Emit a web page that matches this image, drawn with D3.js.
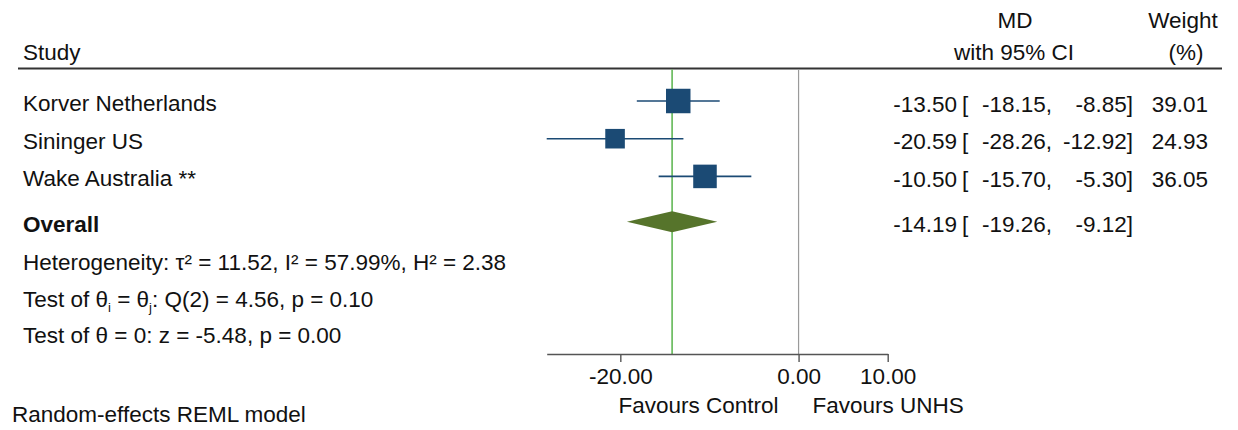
<!DOCTYPE html>
<html>
<head>
<meta charset="utf-8">
<script src="https://cdn.jsdelivr.net/npm/d3@7"></script>
<style>
  html, body { margin: 0; padding: 0; background: #fff; }
  svg text { font-family: "Liberation Sans", Arial, Helvetica, sans-serif; font-size: 22.5px; fill: #111; }
</style>
</head>
<body>
<svg id="chart" width="1238" height="430"></svg>
<script>
// ---- data ----
const studies = ["Korver Netherlands", "Sininger US", "Wake Australia **"];
const estimates = [-13.50, -20.59, -10.50];
const lowerCI = [-18.15, -28.26, -15.70];
const upperCI = [-8.85, -12.92, -5.30];
const weights = [39.01, 24.93, 36.05];
const overallLabel = "Overall";
const overallEst = -14.19;
const overallLo = -19.26;
const overallHi = -9.12;
const xDomain = [-28.26, 10];
const tickValues = [-20, 0, 10];
const favourLabels = ["Favours Control", "Favours UNHS"];

// ---- layout ----
const svg = d3.select("#chart");
const x = d3.scaleLinear().domain(xDomain).range([546.7, 887.7]);
const rowY = d3.scaleLinear().domain([0, 1]).range([101, 138.7]);
const overallY = 221.7;
const headerLineY = 68.5;
const axisY = 354;
const locale = d3.formatLocale({ decimal: ".", thousands: ",", grouping: [3], currency: ["", ""], minus: "-" });
const fmt = locale.format(".2f");
const navy = "#1b4a74";

// header
svg.append("text").attr("x", 23).attr("y", 60).text("Study");
svg.append("text").attr("x", 1015).attr("y", 28).attr("text-anchor", "middle").text("MD");
svg.append("text").attr("x", 1014).attr("y", 60).attr("text-anchor", "middle").text("with 95% CI");
svg.append("text").attr("x", 1183).attr("y", 28).attr("text-anchor", "middle").text("Weight");
svg.append("text").attr("x", 1186).attr("y", 60).attr("text-anchor", "middle").text("(%)");
svg.append("line").attr("x1", 18).attr("x2", 1222).attr("y1", headerLineY).attr("y2", headerLineY)
  .attr("stroke", "#333").attr("stroke-width", 2);

// reference lines
svg.append("line").attr("x1", x(0)).attr("x2", x(0)).attr("y1", headerLineY + 1).attr("y2", axisY)
  .attr("stroke", "#9a9a9a").attr("stroke-width", 1.2);
svg.append("line").attr("x1", x(overallEst)).attr("x2", x(overallEst)).attr("y1", headerLineY + 1).attr("y2", axisY)
  .attr("stroke", "#62b856").attr("stroke-width", 1.6);

// study rows
const rows = studies.map((s, i) => ({ s, est: estimates[i], lo: lowerCI[i], hi: upperCI[i], w: weights[i], y: rowY(i) }));
const g = svg.append("g");
g.selectAll("line.ci").data(rows).join("line").attr("class", "ci")
  .attr("x1", d => x(d.lo)).attr("x2", d => x(d.hi)).attr("y1", d => d.y).attr("y2", d => d.y)
  .attr("stroke", navy).attr("stroke-width", 1.6);
const side = d => 3.92 * Math.sqrt(d.w);
g.selectAll("rect.sq").data(rows).join("rect").attr("class", "sq")
  .attr("x", d => x(d.est) - side(d) / 2).attr("y", d => d.y - side(d) / 2)
  .attr("width", side).attr("height", side).attr("fill", navy);

// text columns
g.selectAll("text.name").data(rows).join("text").attr("class", "name")
  .attr("x", 23).attr("y", d => d.y + 10).text(d => d.s);
g.selectAll("text.est").data(rows).join("text").attr("class", "est")
  .attr("x", 957).attr("y", d => d.y + 10.5).attr("text-anchor", "end").text(d => fmt(d.est));
g.selectAll("text.br").data(rows).join("text").attr("class", "br")
  .attr("x", 962).attr("y", d => d.y + 10.5).text("[");
g.selectAll("text.lo").data(rows).join("text").attr("class", "lo")
  .attr("x", 1052).attr("y", d => d.y + 10.5).attr("text-anchor", "end").text(d => fmt(d.lo) + ",");
g.selectAll("text.hi").data(rows).join("text").attr("class", "hi")
  .attr("x", 1133).attr("y", d => d.y + 10.5).attr("text-anchor", "end").text(d => fmt(d.hi) + "]");
g.selectAll("text.w").data(rows).join("text").attr("class", "w")
  .attr("x", 1208).attr("y", d => d.y + 10.5).attr("text-anchor", "end").text(d => fmt(d.w));

// overall
const dPath = d3.path();
dPath.moveTo(x(overallLo), overallY);
dPath.lineTo(x(overallEst), overallY - 10.5);
dPath.lineTo(x(overallHi), overallY);
dPath.lineTo(x(overallEst), overallY + 10.5);
dPath.closePath();
svg.append("path").attr("d", dPath.toString()).attr("fill", "#56742b");
svg.append("text").attr("x", 23).attr("y", overallY + 10).attr("font-weight", "bold").text(overallLabel);
svg.append("text").attr("x", 957).attr("y", overallY + 10.5).attr("text-anchor", "end").text(fmt(overallEst));
svg.append("text").attr("x", 962).attr("y", overallY + 10.5).text("[");
svg.append("text").attr("x", 1052).attr("y", overallY + 10.5).attr("text-anchor", "end").text(fmt(overallLo) + ",");
svg.append("text").attr("x", 1133).attr("y", overallY + 10.5).attr("text-anchor", "end").text(fmt(overallHi) + "]");

// stats
svg.append("text").attr("x", 23).attr("y", 270).text("Heterogeneity: \u03C4\u00B2 = 11.52, I\u00B2 = 57.99%, H\u00B2 = 2.38");
const t2 = svg.append("text").attr("x", 23).attr("y", 307);
t2.append("tspan").text("Test of \u03B8");
t2.append("tspan").attr("dy", 5).style("font-size", "13px").text("i");
t2.append("tspan").attr("dy", -5).text(" = \u03B8");
t2.append("tspan").attr("dy", 5).style("font-size", "13px").text("j");
t2.append("tspan").attr("dy", -5).text(": Q(2) = 4.56, p = 0.10");
svg.append("text").attr("x", 23).attr("y", 343).text("Test of \u03B8 = 0: z = -5.48, p = 0.00");
svg.append("text").attr("x", 12).attr("y", 422).text("Random-effects REML model");

// axis
const axis = d3.axisBottom(x).tickValues(tickValues).tickFormat(fmt).tickSize(8).tickSizeOuter(0).tickPadding(6);
const ax = svg.append("g").attr("transform", `translate(0,${axisY})`).call(axis);
ax.select(".domain").attr("stroke", "#555").attr("stroke-width", 1.4);
ax.selectAll(".tick line").attr("stroke", "#555").attr("stroke-width", 1.4);
ax.selectAll(".tick text").style("fill", "#111");
ax.attr("font-size", null).attr("font-family", null);

svg.append("text").attr("x", x(0) - 20).attr("y", 413).attr("text-anchor", "end").text(favourLabels[0]);
svg.append("text").attr("x", x(0) + 14).attr("y", 413).text(favourLabels[1]);
</script>
</body>
</html>
